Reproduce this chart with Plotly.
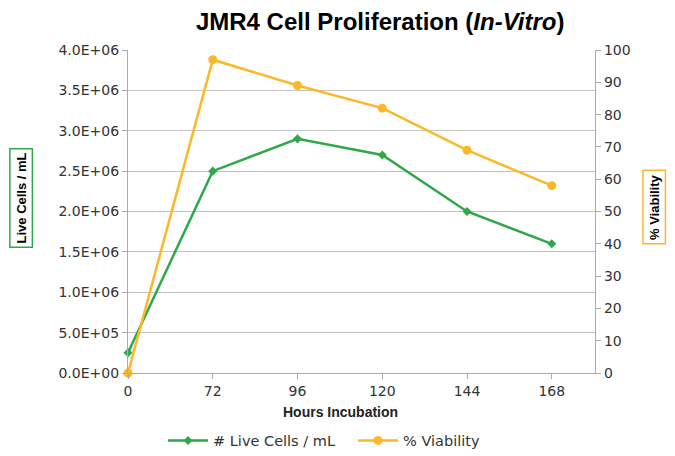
import plotly.graph_objects as go

hours = ["0", "72", "96", "120", "144", "168"]
live_cells = [2.5e5, 2.5e6, 2.9e6, 2.7e6, 2.0e6, 1.6e6]
viability = [0, 97, 89, 82, 69, 58]
left_ticks = [0, 5e5, 1e6, 1.5e6, 2e6, 2.5e6, 3e6, 3.5e6, 4e6]
left_tick_text = ["0.0E+00", "5.0E+05", "1.0E+06", "1.5E+06", "2.0E+06",
                  "2.5E+06", "3.0E+06", "3.5E+06", "4.0E+06"]

GREEN = "#2EA84A"
ORANGE = "#FBB829"
GRID = "#C4C4C4"
AXIS = "#ABABAB"
idx = list(range(len(hours)))

fig = go.Figure()
fig.add_trace(go.Scatter(
    x=idx, y=live_cells, name="# Live Cells / mL", mode="lines+markers",
    line=dict(color=GREEN, width=2.5),
    marker=dict(symbol="diamond", size=7, color=GREEN), yaxis="y", cliponaxis=False))
fig.add_trace(go.Scatter(
    x=idx, y=viability, name="% Viability", mode="lines+markers",
    line=dict(color=ORANGE, width=2.5),
    marker=dict(symbol="circle", size=9, color=ORANGE), yaxis="y2", cliponaxis=False))

tickfont = dict(family="DejaVu Sans", size=14, color="#333333")
boldfont = "Liberation Sans"

fig.update_layout(
    width=667, height=448,
    margin=dict(l=120, r=80, t=42, b=82.5, autoexpand=False),
    paper_bgcolor="white", plot_bgcolor="white",
    title=dict(text="<b>JMR4 Cell Proliferation (<i>In-Vitro</i>)</b>",
               font=dict(family=boldfont, size=24, color="black"),
               x=0.54, xref="paper", xanchor="center",
               y=1 - 14 / 448, yref="container", yanchor="middle"),
    xaxis=dict(range=[0, 5.51], tickvals=idx, ticktext=hours, automargin=False,
               showgrid=False, zeroline=False, showline=True, linecolor=AXIS, linewidth=1.3,
               ticks="outside", ticklen=5, tickcolor=AXIS, tickfont=tickfont),
    yaxis=dict(range=[0, 4e6], tickvals=left_ticks, ticktext=left_tick_text, automargin=False,
               showgrid=True, gridcolor=GRID, gridwidth=1.3, zeroline=False,
               showline=True, linecolor=AXIS, linewidth=1.3,
               ticks="outside", ticklen=5, tickcolor=AXIS, tickfont=tickfont),
    yaxis2=dict(range=[0, 100], dtick=10, overlaying="y", side="right", automargin=False,
                showgrid=False, zeroline=False, showline=True, linecolor=AXIS, linewidth=1.3,
                ticks="outside", ticklen=5, tickcolor=AXIS, tickfont=tickfont),
    legend=dict(orientation="h", x=0.075, xanchor="left", y=-0.209, yanchor="middle",
                font=dict(family="DejaVu Sans", size=14.5, color="#333333"),
                itemwidth=40, tracegroupgap=0, entrywidth=135, entrywidthmode="pixels"),
    showlegend=True,
)

fig.add_annotation(text="<b>Hours Incubation</b>", xref="paper", yref="paper",
                   x=0.454, y=-0.122, showarrow=False, xanchor="center", yanchor="middle",
                   font=dict(family=boldfont, size=14, color="#222222"))
fig.add_annotation(text="<b>Live Cells / mL</b>", xref="paper", yref="paper",
                   x=-0.229, y=0.542, showarrow=False, textangle=-90,
                   xanchor="center", yanchor="middle",
                   font=dict(family=boldfont, size=13, color="black"),
                   bordercolor=GREEN, borderwidth=1.5, borderpad=3, bgcolor="white")
fig.add_annotation(text="<b>% Viability</b>", xref="paper", yref="paper",
                   x=1.126, y=0.515, showarrow=False, textangle=-90,
                   xanchor="center", yanchor="middle",
                   font=dict(family=boldfont, size=13, color="black"),
                   bordercolor=ORANGE, borderwidth=1.5, borderpad=3, bgcolor="white")

fig.write_html("out.html")
